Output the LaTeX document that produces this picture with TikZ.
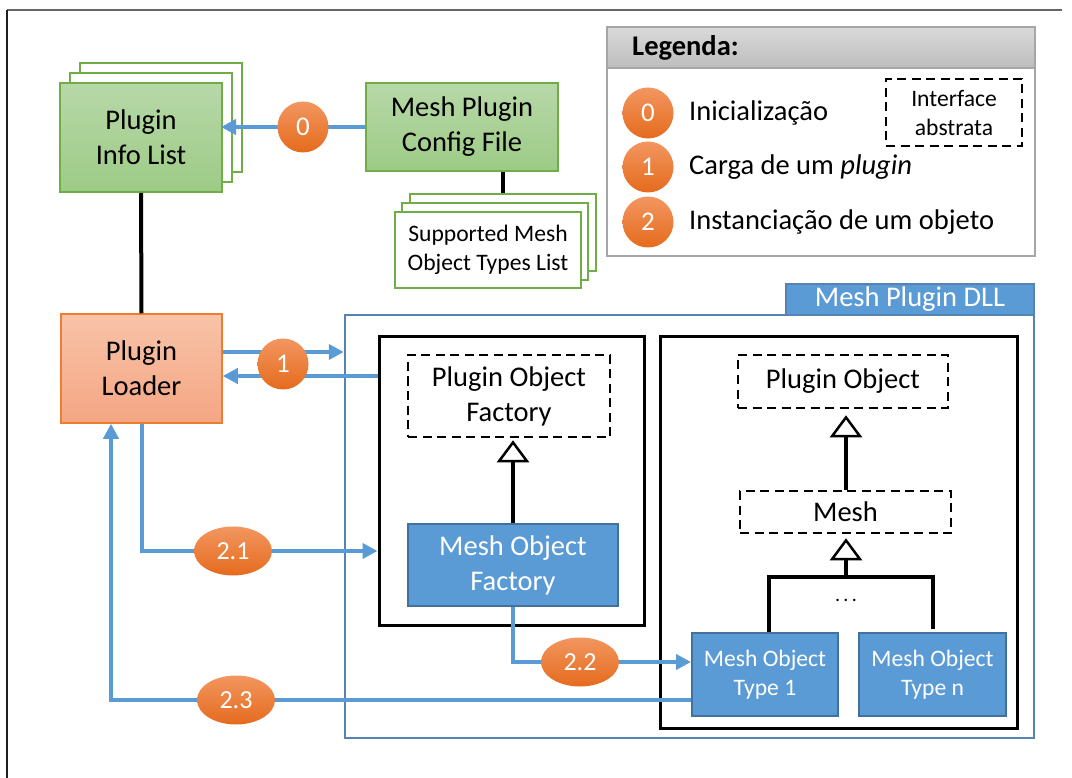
\documentclass[tikz,border=0pt]{standalone}
\usepackage{fontspec}
\setmainfont{Carlito}
\usetikzlibrary{arrows.meta,shapes.geometric,calc}

\definecolor{grline}{HTML}{70AD47}
\definecolor{grtop}{HTML}{B7D8A8}
\definecolor{grbot}{HTML}{9DCB86}
\definecolor{ortop}{HTML}{F8C3A8}
\definecolor{orbot}{HTML}{F4A683}
\definecolor{orline}{HTML}{ED7D31}
\definecolor{flowblue}{HTML}{5B9BD5}
\definecolor{blueline}{HTML}{41719C}
\definecolor{dllline}{HTML}{5683B4}
\definecolor{badgetop}{HTML}{F29660}
\definecolor{badgebot}{HTML}{E56B1D}
\definecolor{legtop}{HTML}{DADADA}
\definecolor{legbot}{HTML}{BDBDBD}
\definecolor{legline}{HTML}{A6A6A6}

\begin{document}
\begin{tikzpicture}[x=1pt,y=-1pt,
  big/.style={font=\fontsize{28.5}{35}\selectfont, align=center},
  small/.style={font=\fontsize{23.6}{29}\selectfont, align=center},
  sized/.style 2 args={minimum width=#1, minimum height=#2, inner sep=0pt},
  greenbox/.style={draw=grline, line width=2pt, top color=grtop, bottom color=grbot},
  greensheet/.style={draw=grline, line width=2pt, fill=white},
  orangebox/.style={draw=orline, line width=1.5pt, top color=ortop, bottom color=orbot},
  bluebox/.style={draw=blueline, line width=2pt, fill=flowblue, text=white},
  iface/.style={draw=black, line width=2.5pt, dash pattern=on 9pt off 5.5pt, fill=white},
  pack/.style={draw=black, line width=3pt},
  badge/.style={circle, minimum size=51pt, inner sep=0pt, top color=badgetop, bottom color=badgebot,
    text=white, font=\fontsize{27}{30}\selectfont},
  oval/.style={ellipse, minimum width=78pt, minimum height=49pt, inner sep=0pt, top color=badgetop,
    bottom color=badgebot, text=white, font=\fontsize{26}{30}\selectfont},
  flow/.style={draw=flowblue, line width=4pt, -{Triangle[length=15pt,width=15pt]}},
  wire/.style={draw=black, line width=4pt},
  inherit/.style={draw=black, line width=3.5pt, -{Triangle[open, length=22pt, width=32pt, line width=2.5pt, fill=white]}},
]
\useasboundingbox (0,0) rectangle (1072,778);

% page frame
\draw[color=black!60, line width=2pt] (7,10) -- (1062,10);
\draw[color=black!88, line width=2pt] (7,10) -- (7,778);

% plugin info list (stacked sheets)
\node[greensheet, sized={162pt}{109pt}] (pil3) at (161,117.5) {};
\node[greensheet, sized={162pt}{109pt}] (pil2) at (151,127.5) {};
\node[greenbox, sized={162pt}{109pt}, big] (pil) at (141,137.5) {Plugin\\Info List};

% mesh plugin config file and its type lists
\node[greenbox, sized={192pt}{88pt}, big] (cfg) at (462,127) {Mesh Plugin\\Config File};
\node[greensheet, sized={186pt}{77pt}] (sml3) at (502.5,233) {};
\node[greensheet, sized={186pt}{77pt}] (sml2) at (495,241.5) {};
\node[greensheet, sized={186pt}{76pt}, small] (sml) at (488,250) {Supported Mesh\\Object Types List};
\draw[wire] (cfg.south -| sml3.north) -- (sml3.north);

% plugin loader
\node[orangebox, sized={161pt}{109pt}, big] (loader) at (141.5,368.5) {Plugin\\Loader};
\draw[wire] (pil.south) -- (loader.north);

% legend
\node[draw=legline, line width=2pt, fill=white, sized={428pt}{229pt}] (leg) at (821,141.5) {};
\node[draw=legline, line width=2pt, top color=legtop, bottom color=legbot, sized={428pt}{41pt}] (leghead) at (821,47.5) {};
\node[anchor=west, inner sep=0pt, font=\fontsize{28.5}{35}\selectfont\bfseries] (legtitle) at (632,48) {Legenda:};
\node[badge] (l0) at (648,113) {0};
\node[badge] (l1) at (648,167) {1};
\node[badge] (l2) at (648,222) {2};
\node[big, anchor=west, inner sep=0pt] (t0) at (689,113) {Inicialização};
\node[big, anchor=west, inner sep=0pt] (t1l) at (689,167) {Carga de um \textit{plugin}};
\node[big, anchor=west, inner sep=0pt] (t2) at (689,222) {Instanciação de um objeto};
\node[iface, sized={136pt}{67pt}, small] (legif) at (954,112.5) {Interface\\abstrata};

% mesh plugin DLL package
\node[draw=dllline, line width=2.5pt, sized={689pt}{423pt}] (dll) at (689.5,526.5) {};
\node[draw=dllline, line width=2.5pt, fill=flowblue, text=white, sized={248pt}{31pt}, big] (dllhead) at (910,299.5) {Mesh Plugin DLL};
\node[pack, sized={265pt}{288pt}] (lbox) at (511.5,481) {};
\node[pack, sized={357pt}{391pt}] (rbox) at (838.5,532.5) {};

% factory side
\node[iface, sized={202pt}{82pt}, big] (pof) at (509,396) {Plugin Object\\Factory};
\node[bluebox, sized={210pt}{82pt}, big] (mof) at (513,565) {Mesh Object\\Factory};
\draw[inherit, shorten >=2pt] (mof.north) -- (mof.north |- pof.south);

% object side
\node[iface, sized={210pt}{53pt}, big] (po) at (843,381.5) {Plugin Object};
\node[iface, sized={211pt}{42pt}, big] (mesh) at (845.5,512) {Mesh};
\node[bluebox, sized={146pt}{83pt}, small] (mt1) at (765,674.5) {Mesh Object\\Type 1};
\node[bluebox, sized={147pt}{83pt}, small] (mtn) at (932.5,674.5) {Mesh Object\\Type n};
\coordinate (fork) at (846,577);
\coordinate (upx) at (846,0);
\draw[inherit, shorten >=6pt] (mesh.north -| upx) -- (po.south -| upx);
\draw[wire] ([xshift=4pt]mt1.north) |- (fork) -| ([yshift=3pt]mtn.north);
\draw[inherit, shorten >=4pt] (fork) -- (fork |- mesh.south);
\node[font=\fontsize{20}{24}\selectfont] (dots) at (846,600) {.\,.\,.};

% step 0
\draw[flow, shorten >=-2pt] (cfg.west) -- (cfg.west -| pil.east);
\node[badge] (s0) at (303,127) {0};

% step 1
\draw[flow] ([yshift=16.5pt]loader.east) -- ([yshift=16.5pt]loader.east -| dll.west);
\draw[flow] ([yshift=-7.5pt]loader.east -| lbox.west) -- ([yshift=-7.5pt]loader.east);
\node[badge] (s1) at (283,364) {1};

% step 2
\coordinate (c21) at (233,551);
\coordinate (c22) at (580,662);
\coordinate (c23) at (236,700);
\draw[flow] (loader.south) |- (lbox.west |- c21);
\draw[flow] (mof.south) |- (mt1.west |- c22);
\draw[flow] ([yshift=-25.5pt]mt1.west) -| ([xshift=-30.5pt]loader.south);
\node[oval] (s21) at (c21) {2.1};
\node[oval] (s22) at (c22) {2.2};
\node[oval] (s23) at (c23) {2.3};
\end{tikzpicture}
\end{document}
